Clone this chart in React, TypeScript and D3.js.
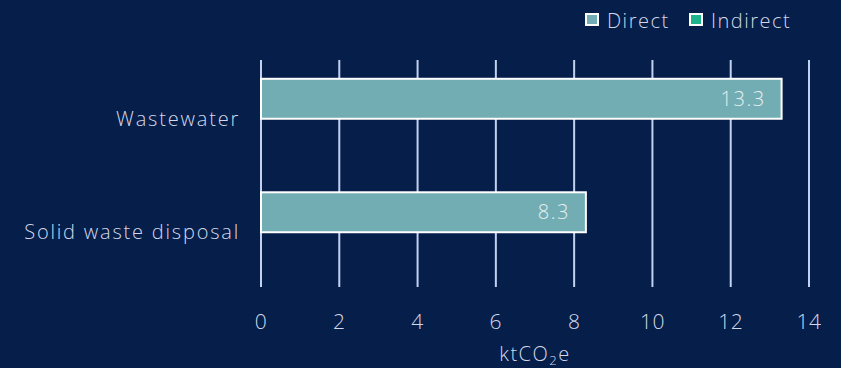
import React from "react";
import * as d3 from "d3";

const categories = ["Wastewater", "Solid waste disposal"];
const seriesNames = ["Direct", "Indirect"];
const directValues = [13.3, 8.3];
const indirectValues = [0, 0];
const xTicks = [0, 2, 4, 6, 8, 10, 12, 14];
const seriesColors = ["#72adb4", "#1db38d"];

const W = 841;
const H = 368;
const BG = "#061e4a";
const TEXT = "#d3d8e8";
const GRID = "#c3d1f0";
const FONT = "'Open Sans', 'Noto Sans', sans-serif";

export default function App() {
  const x = d3.scaleLinear().domain([0, 14]).range([261, 809]);
  const y = d3.scaleBand<string>().domain(categories).range([62, 289]).padding(0);
  const inner = d3
    .scaleBand<string>()
    .domain(seriesNames)
    .range([0, y.bandwidth()])
    .paddingInner(0)
    .paddingOuter(0.42);

  const values = [directValues, indirectValues];

  return (
    <svg
      width={W}
      height={H}
      style={{ position: "absolute", left: 0, top: 0, background: BG, display: "block" }}
      fontFamily={FONT}
    >
      <rect x={0} y={0} width={W} height={H} fill={BG} />
      {/* vertical gridlines */}
      {xTicks.map((t) => (
        <line key={t} x1={x(t)} x2={x(t)} y1={60} y2={287} stroke={GRID} strokeWidth={2} />
      ))}
      {/* bars */}
      {categories.map((c, ci) =>
        seriesNames.map((s, si) => {
          const v = values[si][ci];
          if (!v) return null;
          const by = (y(c) ?? 0) + (inner(s) ?? 0);
          return (
            <g key={c + s}>
              <rect
                x={x(0)}
                y={by}
                width={x(v) - x(0)}
                height={inner.bandwidth()}
                fill={seriesColors[si]}
                stroke="#ffffff"
                strokeWidth={2}
              />
              <text
                x={x(v) - 16}
                y={by + inner.bandwidth() / 2}
                dy="0.35em"
                textAnchor="end"
                fill="#e6eef0"
                fontSize={20}
                fontWeight={300}
                letterSpacing={1.5}
              >
                {v.toFixed(1)}
              </text>
            </g>
          );
        })
      )}
      {/* category labels */}
      {categories.map((c) => (
        <text
          key={c}
          x={240}
          y={(y(c) ?? 0) + y.bandwidth() / 2}
          dy="0.35em"
          textAnchor="end"
          fill={TEXT}
          fontSize={20}
          fontWeight={300}
          letterSpacing={1.8}
        >
          {c}
        </text>
      ))}
      {/* x tick labels */}
      {xTicks.map((t) => (
        <text
          key={t}
          x={x(t)}
          y={329}
          textAnchor="middle"
          fill={TEXT}
          fontSize={21}
          fontWeight={300}
          letterSpacing={0.5}
        >
          {t}
        </text>
      ))}
      {/* axis title */}
      <text x={(x(0) + x(14)) / 2} y={361} textAnchor="middle" fill={TEXT} fontSize={20} fontWeight={300} letterSpacing={1.5}>
        ktCO<tspan fontSize={13} dy={4}>2</tspan>
        <tspan dy={-4}>e</tspan>
      </text>
      {/* legend */}
      {seriesNames.map((s, i) => {
        const lx = [585, 689][i];
        return (
          <g key={s}>
            <rect x={lx + 1} y={14} width={12} height={11} fill={seriesColors[i]} stroke="#ffffff" strokeWidth={2} />
            <text x={lx + 22} y={28} fill={TEXT} fontSize={20} fontWeight={300} letterSpacing={1.5}>
              {s}
            </text>
          </g>
        );
      })}
    </svg>
  );
}
